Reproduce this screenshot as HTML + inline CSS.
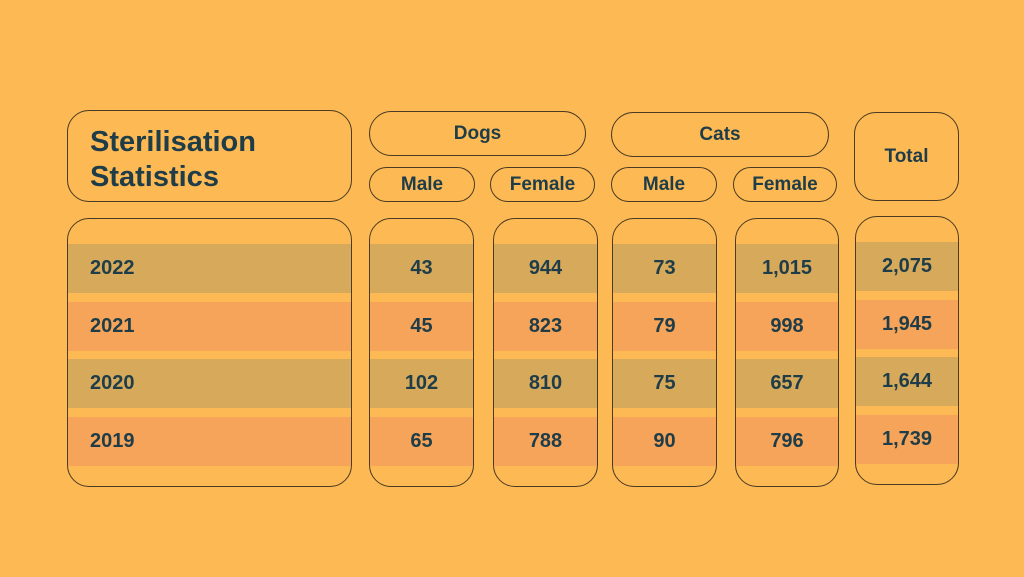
<!DOCTYPE html>
<html><head><meta charset="utf-8">
<style>
html,body{margin:0;padding:0}
body{width:1024px;height:577px;background:#FDB954;position:relative;overflow:hidden;font-family:"Liberation Sans",sans-serif;color:#1E3D48;font-weight:bold}
.box{position:absolute;border:1.5px solid #4a3b22;box-sizing:border-box;overflow:hidden}
.pill{border-radius:24px;display:flex;align-items:center;justify-content:center;font-size:19px}
.band{position:absolute;left:0;right:0;display:flex;align-items:center;justify-content:center;font-size:20px}
.dark{background:#D6A95B}
.org{background:#F6A45A}
</style></head><body>
<div class="box" style="left:67px;top:110px;width:285px;height:92px;border-radius:22px;">
  <div style="position:absolute;left:22px;top:14px;font-size:29px;line-height:35px;">Sterilisation<br>Statistics</div>
</div>
<div class="box pill" style="left:369px;top:111px;width:217px;height:45px;">Dogs</div>
<div class="box pill" style="left:369px;top:167px;width:106px;height:35px;">Male</div>
<div class="box pill" style="left:490px;top:167px;width:105px;height:35px;">Female</div>
<div class="box pill" style="left:611px;top:112px;width:218px;height:45px;">Cats</div>
<div class="box pill" style="left:611px;top:167px;width:106px;height:35px;">Male</div>
<div class="box pill" style="left:733px;top:167px;width:104px;height:35px;">Female</div>
<div class="box pill" style="left:854px;top:112px;width:105px;height:89px;border-radius:22px;">Total</div>
<div id="cols"></div>
<script>
const years = ["2022","2021","2020","2019"];
const dogsMale = ["43","45","102","65"];
const dogsFemale = ["944","823","810","788"];
const catsMale = ["73","79","75","90"];
const catsFemale = ["1,015","998","657","796"];
const totals = ["2,075","1,945","1,644","1,739"];

const layout = [
  {name:"year-column", vals:years, left:67, width:285, top:218, align:"left"},
  {name:"dogs-male-column", vals:dogsMale, left:369, width:105, top:218},
  {name:"dogs-female-column", vals:dogsFemale, left:493, width:105, top:218},
  {name:"cats-male-column", vals:catsMale, left:612, width:105, top:218},
  {name:"cats-female-column", vals:catsFemale, left:735, width:104, top:218},
  {name:"total-column", vals:totals, left:855, width:104, top:216}
];
const host = document.getElementById('cols');
layout.forEach(c => {
  const box = document.createElement('div');
  box.className = 'box';
  
  
  box.style.cssText = `left:${c.left}px;top:${c.top}px;width:${c.width}px;height:269px;border-radius:22px;`;
  c.vals.forEach((v, i) => {
    const b = document.createElement('div');
    b.className = 'band ' + (i % 2 === 0 ? 'dark' : 'org');
    
    
    b.style.top = (25 + i * 57.5) + 'px';
    b.style.height = '49px';
    if (c.align === 'left') { b.style.justifyContent = 'flex-start'; b.style.paddingLeft = '22px'; }
    b.textContent = v;
    box.appendChild(b);
  });
  host.appendChild(box);
});
</script>
</body></html>
